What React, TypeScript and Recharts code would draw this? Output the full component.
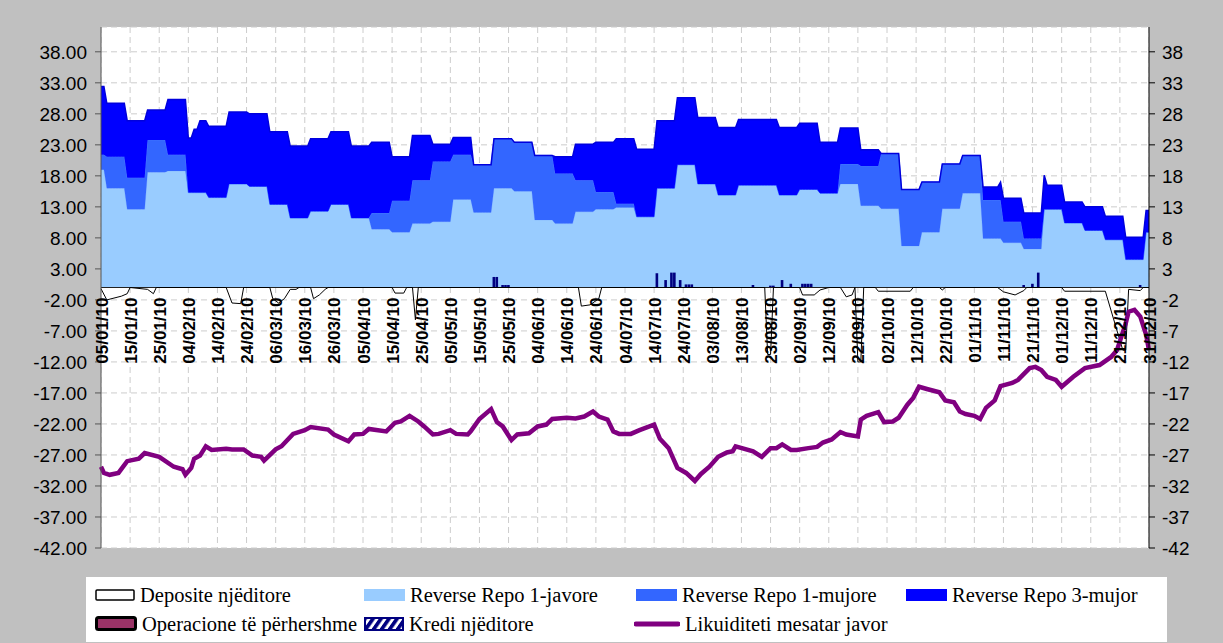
import React from 'react';
import {
  ComposedChart,
  Area,
  Bar,
  Line,
  XAxis,
  YAxis,
  CartesianGrid,
  ReferenceLine
} from 'recharts';

// x = day index, 0 = 05/01/10, 360 = 31/12/10
const dateLabels = [
  '05/01/10', '15/01/10', '25/01/10', '04/02/10', '14/02/10', '24/02/10', '06/03/10',
  '16/03/10', '26/03/10', '05/04/10', '15/04/10', '25/04/10', '05/05/10', '15/05/10',
  '25/05/10', '04/06/10', '14/06/10', '24/06/10', '04/07/10', '14/07/10', '24/07/10',
  '03/08/10', '13/08/10', '23/08/10', '02/09/10', '12/09/10', '22/09/10', '02/10/10',
  '12/10/10', '22/10/10', '01/11/10', '11/11/10', '21/11/10', '01/12/10', '11/12/10',
  '21/12/10', '31/12/10'
];
const dateTicks = dateLabels.map((_, i) => i * 10);
const yTicks = [38, 33, 28, 23, 18, 13, 8, 3, -2, -7, -12, -17, -22, -27, -32, -37, -42];

// reverse repo stock, changes at the weekly auctions (day where the new value starts)
const stepDays = [
  0, 2, 9, 16, 23, 30, 32, 34, 37, 44, 51, 58, 65, 72, 79, 86, 93, 100, 107, 114, 121,
  128, 135, 142, 149, 156, 163, 170, 177, 184, 191, 198, 205, 212, 219, 226, 233, 240,
  247, 254, 261, 268, 275, 282, 289, 296, 303, 309, 310, 317, 324, 325, 331, 338, 345,
  352, 359
];
const repo1w = [
  19.0, 16.0, 12.6, 18.6, 18.8, 15.3, 15.3, 15.3, 14.5, 16.7, 16.3, 13.4, 11.2, 12.3, 13.4,
  11.2, 9.4, 8.9, 10.3, 10.6, 14.2, 12.1, 16.0, 15.5, 10.9, 10.3, 12.2, 12.6, 12.9, 11.4,
  16.0, 19.8, 16.7, 14.9, 16.5, 16.5, 14.9, 15.8, 15.2, 16.7, 13.2, 12.7, 6.7, 8.9, 12.7,
  15.2, 7.9, 7.9, 7.2, 6.2, 12.6, 12.6, 10.4, 9.2, 7.7, 4.5, 8.9
];
const repo1m = [
  2.4, 5.1, 5.1, 5.2, 2.6, 0, 0, 0, 0, 0, 0, 0, 0, 0, 0,
  0, 2.6, 5.1, 7.0, 9.7, 7.2, 7.7, 8.0, 7.9, 10.4, 8.1, 5.1, 2.8, 0.6, 0,
  0, 0, 0, 0, 0, 0, 0, 0, 0, 3.2, 6.4, 8.9, 9.1, 8.1, 7.2,
  6.1, 6.2, 6.2, 3.4, 1.7, 0, 0, 0, 0, 0, 0, 0
];
const repo3m = [
  11.0, 8.6, 9.2, 4.8, 8.9, 8.8, 10.2, 11.6, 11.5, 11.6, 11.7, 11.7, 11.6, 11.7, 11.7,
  11.6, 11.4, 7.1, 7.2, 2.8, 2.8, 0, 0, 0, 0, 2.7, 5.8, 8.0, 10.5, 10.9,
  10.9, 10.8, 10.7, 10.9, 10.6, 10.6, 10.9, 10.7, 8.2, 5.8, 2.6, 0, 0, 0, 0,
  0, 2.1, 2.9, 3.8, 4.1, 5.5, 3.9, 3.4, 3.8, 3.8, 3.6, 3.5
];

// [day, value]
const likuiditeti: [number, number][] = [
  [0, -28.9], [1, -29.9], [3, -30.2], [6, -29.9], [9, -28.0], [13, -27.6], [15, -26.7],
  [20, -27.3], [25, -28.9], [28, -29.3], [29, -30.2], [31, -29.1], [32, -27.6], [34, -27.1],
  [36, -25.6], [38, -26.2], [43, -26.0], [45, -26.1], [49, -26.1], [52, -27.1], [55, -27.3],
  [56, -27.9], [60, -26.1], [62, -25.6], [66, -23.6], [70, -23.0], [72, -22.5], [78, -22.9],
  [80, -23.7], [85, -24.8], [87, -23.7], [90, -23.6], [92, -22.8], [98, -23.2], [101, -21.8],
  [103, -21.6], [106, -20.7], [109, -21.6], [111, -22.4], [114, -23.7], [116, -23.6],
  [120, -23.0], [122, -23.6], [126, -23.7], [127, -23.2], [130, -21.2], [134, -19.6],
  [136, -21.7], [138, -22.4], [141, -24.6], [143, -23.7], [147, -23.5], [150, -22.4],
  [153, -22.1], [155, -21.2], [160, -21.0], [163, -21.1], [166, -20.8], [169, -20.0],
  [171, -20.8], [174, -21.3], [176, -23.2], [178, -23.6], [182, -23.6], [185, -23.0],
  [190, -22.1], [192, -24.4], [195, -25.9], [198, -29.1], [201, -29.9], [204, -31.2],
  [206, -30.1], [209, -28.9], [212, -27.3], [215, -26.6], [217, -26.4], [218, -25.6],
  [224, -26.4], [227, -27.3], [230, -25.9], [232, -25.9], [234, -25.3], [237, -26.2],
  [239, -26.2], [243, -25.9], [246, -25.7], [248, -25.0], [251, -24.5], [254, -23.3],
  [256, -23.7], [260, -24.0], [261, -21.3], [263, -20.7], [267, -20.1], [269, -21.7],
  [272, -21.6], [274, -21.0], [277, -18.9], [279, -17.8], [281, -16.0], [284, -16.4],
  [288, -16.9], [290, -18.2], [293, -18.5], [295, -20.0], [297, -20.4], [300, -20.7],
  [302, -21.2], [304, -19.4], [307, -18.2], [309, -15.9], [313, -15.4], [315, -14.9],
  [319, -13.0], [321, -12.8], [323, -13.3], [325, -14.4], [328, -14.9], [330, -16.0],
  [334, -14.4], [338, -13.0], [343, -12.5], [347, -11.2], [349, -10.1], [352, -5.8],
  [353, -3.9], [355, -3.6], [357, -4.7], [359, -7.6], [360, -10.1]
];

const depozita: [number, number][] = [
  [0, -0.2], [2, -2.0], [7, -1.4], [9, -1.0], [10, 0], [16, -0.3], [18, -1.0], [19, 0],
  [43, 0], [45, -2.5], [48, -2.6], [49, 0], [58, 0], [59, -1.8], [61, -2.5], [63, -1.8],
  [65, -0.3], [67, -0.3], [68, 0], [72, 0], [73, -1.8], [75, -1.2], [77, -0.3], [78, 0],
  [100, 0], [101, -0.9], [104, -0.9], [105, 0], [107, 0], [108, -5.2], [109, 0],
  [164, 0], [165, -3.0], [168, -2.8], [171, -1.8], [172, 0], [228, 0], [229, -10.8],
  [230, -10.8], [231, 0], [240, 0], [241, -1.2], [245, -1.2], [247, -0.4], [250, 0],
  [254, 0], [256, -1.5], [258, -1.2], [259, 0], [260, -12.0], [261, -12.0], [262, 0],
  [266, 0], [267, -0.6], [278, -0.6], [279, 0], [288, 0], [289, -0.4], [290, 0],
  [308, 0], [310, -0.7], [314, -1.2], [317, -0.5], [318, 0], [330, 0], [331, -0.6],
  [345, -0.6], [351, -10.1], [352, -10.1], [353, -0.3], [357, -0.5], [358, 0], [360, 0]
];

const krediNjeditore: [number, number][] = [
  [135, 1.7], [136, 1.7], [138, 0.4], [139, 0.4], [140, 0.4], [191, 2.3], [194, 1.2],
  [196, 2.4], [197, 2.4], [199, 1.2], [201, 0.5], [202, 0.5], [203, 0.5], [224, 0.4],
  [230, 0.3], [231, 0.3], [234, 1.2], [237, 0.6], [241, 0.6], [242, 0.6], [243, 0.6],
  [244, 0.6], [317, 0.4], [320, 0.6], [322, 2.4], [357, 0.4]
];

const likMap = new Map(likuiditeti);
const depMap = new Map(depozita);
const krediMap = new Map(krediNjeditore);

const chartData = Array.from({ length: 361 }, (_, d) => {
  let i = stepDays.length - 1;
  while (stepDays[i] > d) i--;
  return {
    d,
    r1w: repo1w[i],
    r1m: repo1m[i],
    r3m: repo3m[i],
    lik: likMap.get(d),
    dep: depMap.get(d),
    kredi: krediMap.get(d)
  };
});

const W = 1223;
const H = 643;
const CHART_H = 560;
const MARGIN = { top: 27, right: 14, bottom: 2, left: 11 };
const X_AXIS_H = 10;
const PLOT_H = CHART_H - MARGIN.top - MARGIN.bottom - X_AXIS_H;

const sans = '"Liberation Sans", Arial, sans-serif';
const serif = '"Liberation Serif", "Times New Roman", serif';

function DateTick(props: any) {
  const { x, y, payload } = props;
  const ty = y - PLOT_H / 2 + 10;
  return (
    <text
      x={x + 1}
      y={ty}
      transform={`rotate(-90 ${x + 1} ${ty})`}
      textAnchor="end"
      dominantBaseline="central"
      fontSize={17}
      fontWeight="bold"
      fontFamily={sans}
      fill="#000"
    >
      {dateLabels[Math.round(payload.value / 10)]}
    </text>
  );
}

function Swatch({ kind }: { kind: string }) {
  if (kind === 'line') {
    return (
      <svg width={46} height={14} style={{ display: 'block' }}>
        <line x1={2} y1={7} x2={44} y2={7} stroke="#800080" strokeWidth={5} strokeLinecap="round" />
      </svg>
    );
  }
  if (kind === 'hatch') {
    return (
      <svg width={40} height={14} style={{ display: 'block' }}>
        <defs>
          <pattern id="hatch" width="8" height="14" patternUnits="userSpaceOnUse" patternTransform="skewX(-35)">
            <rect width="8" height="14" fill="#fff" />
            <rect width="4.5" height="14" fill="#000080" />
          </pattern>
        </defs>
        <rect x={1} y={1} width={38} height={12} fill="url(#hatch)" stroke="#000080" strokeWidth={2} />
      </svg>
    );
  }
  if (kind === 'oper') {
    return (
      <svg width={42} height={15} style={{ display: 'block' }}>
        <rect x={1.5} y={1.5} width={39} height={12} rx={2} fill="#993366" stroke="#000" strokeWidth={3} />
      </svg>
    );
  }
  if (kind === 'dep') {
    return (
      <svg width={40} height={12} style={{ display: 'block' }}>
        <rect x={1} y={1} width={38} height={10} rx={1} fill="#fff" stroke="#000" strokeWidth={1.5} />
      </svg>
    );
  }
  return <div style={{ width: 41, height: 12, background: kind }} />;
}

const legendItems = [
  { label: 'Deposite njëditore', kind: 'dep', left: 95, top: 588 },
  { label: 'Reverse Repo 1-javore', kind: '#99CCFF', left: 364, top: 588 },
  { label: 'Reverse Repo 1-mujore', kind: '#3366FF', left: 636, top: 588 },
  { label: 'Reverse Repo 3-mujor', kind: '#0000FF', left: 906, top: 588 },
  { label: 'Operacione të përhershme', kind: 'oper', left: 95, top: 616 },
  { label: 'Kredi njëditore', kind: 'hatch', left: 364, top: 617 },
  { label: 'Likuiditeti mesatar javor', kind: 'line', left: 634, top: 617 }
];

export default function App() {
  return (
    <div
      style={{
        position: 'absolute',
        left: 0,
        top: 0,
        width: W,
        height: H,
        background: '#C0C0C0',
        overflow: 'hidden'
      }}
    >
      <ComposedChart width={W} height={CHART_H} data={chartData} margin={MARGIN}>
        <CartesianGrid fill="#fff" stroke="#CCCCCC" strokeDasharray="6 4" />
        <XAxis
          dataKey="d"
          type="number"
          domain={[0, 360]}
          ticks={dateTicks}
          interval={0}
          height={X_AXIS_H}
          tickSize={0}
          tickMargin={0}
          tickLine={false}
          axisLine={false}
          tick={<DateTick />}
        />
        <YAxis
          domain={[-42, 42]}
          ticks={yTicks}
          interval={0}
          width={90}
          allowDataOverflow
          tickSize={6}
          tickMargin={8}
          stroke="#555"
          tick={{ fontSize: 19, fill: '#000', fontFamily: sans }}
          tickFormatter={(v: number) => v.toFixed(2)}
        />
        <YAxis
          yAxisId="r"
          orientation="right"
          domain={[-42, 42]}
          ticks={yTicks}
          interval={0}
          width={60}
          allowDataOverflow
          tickSize={6}
          tickMargin={7}
          stroke="#000"
          tick={{ fontSize: 19, fill: '#000', fontFamily: sans }}
          tickFormatter={(v: number) => v.toFixed(0)}
        />
        <Area
          type="linear"
          dataKey="r1w"
          stackId="rr"
          fill="#99CCFF"
          fillOpacity={1}
          stroke="#88BBFF"
          strokeWidth={1}
          isAnimationActive={false}
        />
        <Area
          type="linear"
          dataKey="r1m"
          stackId="rr"
          fill="#3366FF"
          fillOpacity={1}
          stroke="#4477FF"
          strokeWidth={1}
          isAnimationActive={false}
        />
        <Area
          type="linear"
          dataKey="r3m"
          stackId="rr"
          fill="#0000FF"
          fillOpacity={1}
          stroke="#0000DD"
          strokeWidth={1.5}
          isAnimationActive={false}
        />
        <Bar dataKey="kredi" fill="#000080" barSize={3} isAnimationActive={false} />
        <ReferenceLine y={0} stroke="#222" strokeWidth={1} />
        <Line
          type="linear"
          dataKey="dep"
          stroke="#000"
          strokeWidth={1}
          dot={false}
          connectNulls
          isAnimationActive={false}
        />
        <Line
          type="linear"
          dataKey="lik"
          stroke="#800080"
          strokeWidth={4.5}
          dot={false}
          connectNulls
          isAnimationActive={false}
        />
      </ComposedChart>

      <div
        style={{
          position: 'absolute',
          left: 86,
          top: 577,
          width: 1081,
          height: 65,
          background: '#fff'
        }}
      />
      {legendItems.map((it) => (
        <div
          key={it.label}
          style={{
            position: 'absolute',
            left: it.left,
            top: it.top,
            display: 'flex',
            alignItems: 'center',
            gap: 5,
            fontFamily: serif,
            fontSize: 20.5,
            lineHeight: '14px',
            color: '#000',
            whiteSpace: 'nowrap'
          }}
        >
          <Swatch kind={it.kind} />
          <span>{it.label}</span>
        </div>
      ))}
    </div>
  );
}
